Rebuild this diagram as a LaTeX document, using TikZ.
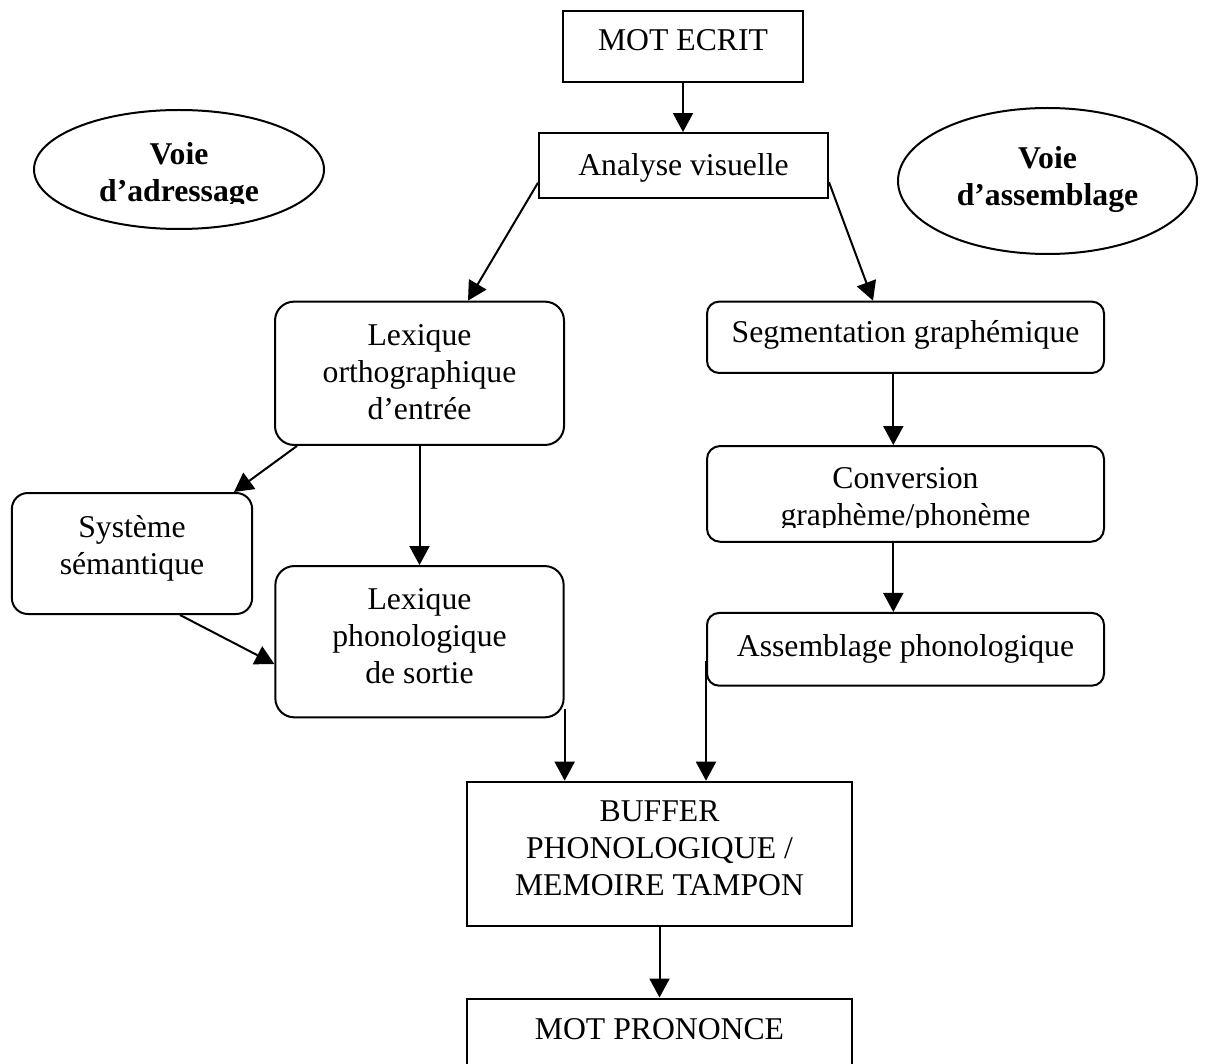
\documentclass[tikz,border=0pt]{standalone}
\usepackage{fontspec}
\setmainfont{Liberation Serif}
\usetikzlibrary{arrows.meta,shapes.geometric}
% zero-width struts that set the height of a first line / the depth of a last line
\newcommand\upstrut[1]{\rule{0pt}{#1}}
\newcommand\downstrut[1]{\rule[-#1]{0pt}{#1}}
\begin{document}
\begin{tikzpicture}[x=1pt,y=-1pt,
  base/.style={draw, line width=2pt, inner sep=0pt, font=\fontsize{31.7}{37}\selectfont},
  sqbox/.style={base, rectangle},
  rbox/.style={base, rectangle, rounded corners=#1},
  rbox/.default=12pt,
  oval/.style={base, ellipse, font=\fontsize{31.7}{37}\selectfont\bfseries},
  multi/.style={align=center},
  oneline/.style={text height=22pt, text depth=#1},
  label text/.style={inner sep=0pt, align=center, font=\fontsize{31.7}{37}\selectfont},
  arr/.style={line width=2pt, -{Triangle[length=19pt,width=20pt]}},
]
\useasboundingbox (0,0) rectangle (1217,1064);
\clip (0,0) rectangle (1217,1064);

% ---- top of the flow
\node[sqbox, oneline=14pt, minimum width=240pt, minimum height=71pt] (ecrit) at (683,46.5) {MOT ECRIT};
\node[sqbox, oneline=3pt, minimum width=289pt, minimum height=65.3pt] (ana) at (683.5,165.7) {Analyse visuelle};

% ---- the two routes
\node[oval, minimum width=290pt, minimum height=119pt] (adr) at (179,169.5) {};
\begin{scope}
  \clip (20,100) rectangle (340,203.5);
  \node[label text, font=\fontsize{31.7}{37}\selectfont\bfseries] (adr-label) at (adr.center)
    {\upstrut{33.4pt}Voie\\d’adressage\downstrut{7pt}};
\end{scope}
\node[oval, multi, minimum width=299pt, minimum height=146pt] (ass) at (1047.5,181)
  {\upstrut{23pt}Voie\\d’assemblage\downstrut{10.6pt}};

% ---- lexical route (left)
\node[rbox=19pt, multi, minimum width=289pt, minimum height=143.3pt] (ortho) at (419.5,373.3)
  {\upstrut{23pt}Lexique\\orthographique\\d’entrée\downstrut{4.6pt}};
\node[rbox=16pt, multi, minimum width=240.3pt, minimum height=121pt] (sys) at (132,553.5)
  {\upstrut{23pt}Système\\sémantique\downstrut{19pt}};
\node[rbox=19pt, multi, minimum width=288.3pt, minimum height=151.3pt] (phono) at (419.5,641.7)
  {\upstrut{23pt}Lexique\\phonologique\\de sortie\downstrut{13pt}};

% ---- sublexical route (right)
\node[rbox, oneline=11pt, minimum width=397pt, minimum height=71.3pt] (seg) at (905.5,337.3) {Segmentation graphémique};
\node[rbox=13pt, minimum width=397pt, minimum height=95.7pt] (conv) at (905.5,493.9) {};
\begin{scope}
  \clip (700,440) rectangle (1110,527.3);
  \node[label text] (conv-label) at (conv.center)
    {\upstrut{34pt}Conversion\\graphème/phonème\downstrut{7pt}};
\end{scope}
\node[rbox, oneline=7pt, minimum width=397pt, minimum height=72.7pt] (assem) at (905.5,649.3) {Assemblage phonologique};

% ---- output
\node[sqbox, multi, minimum width=384.4pt, minimum height=144pt] (buf) at (659.5,853.7)
  {\upstrut{23pt}BUFFER\\PHONOLOGIQUE /\\MEMOIRE TAMPON\downstrut{13.8pt}};
\node[sqbox, oneline=141pt, anchor=north, minimum width=384.4pt, minimum height=200pt] (pron) at (659.5,997.5) {MOT PRONONCE};

% ---- connectors
\draw[arr] (ecrit.south) -- (ecrit.south |- ana.north);
\draw[arr] ([yshift=-17pt]ana.west) -- ([xshift=48.5pt]ortho.north);
\draw[arr] ([yshift=-16.5pt]ana.east) -- ([xshift=-32.5pt]seg.north);
\draw[arr] ([xshift=-122.5pt]ortho.south) -- ([xshift=102pt]sys.north);
\draw[arr] (ortho.south) -- (ortho.south |- phono.north);
\draw[arr] ([xshift=48pt]sys.south) -- ([yshift=-22.3pt]phono.west);
\coordinate (gx) at ([xshift=-12.2pt]seg.south);
\draw[arr] (gx) -- (gx |- conv.north);
\draw[arr] (gx |- conv.south) -- (gx |- assem.north);
\coordinate (px) at ([yshift=9pt]phono.south east);
\draw[arr] (px) -- (px |- buf.north);
\coordinate (ax) at ([yshift=-12pt]assem.west);
\draw[arr] (ax) -- (ax |- buf.north);
\draw[arr] (buf.south) -- (buf.south |- pron.north);
\end{tikzpicture}
\end{document}
